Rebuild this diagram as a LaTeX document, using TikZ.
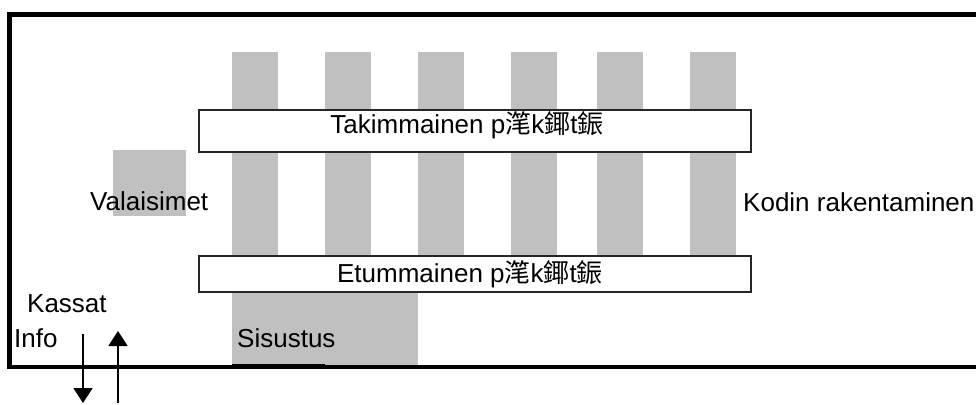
\documentclass[tikz,border=0pt]{standalone}
\usepackage{fontspec}
\setmainfont{Liberation Sans}
\newfontfamily\cjk{Noto Sans CJK SC}
\usetikzlibrary{arrows.meta}
\definecolor{barGray}{HTML}{C0C0C0}
\begin{document}
\begin{tikzpicture}[x=1pt,y=-1pt,
  lbl/.style={inner sep=0pt, font=\fontsize{26}{31}\selectfont},
  walkbox/.style={draw=black!85, line width=2pt, fill=white, inner sep=0pt},
  framestyle/.style={line width=4.5pt, line join=miter},
  arr/.style={line width=1.8pt, -{Triangle[width=19pt,length=15pt]}}]
\useasboundingbox (0,0) rectangle (976,404);
\fill[white] (0,0) rectangle (976,404);
% vertical gray bars (aisles)
\foreach \x in {232,325,418,511,597,690}
  \fill[barGray] (\x,52) rectangle ++(46,206);
% Sisustus block
\fill[barGray] (232,290) rectangle (418,366);
% Valaisimet block
\fill[barGray] (113,150) rectangle (186,216);
% walkway boxes
\node[walkbox, minimum width=552pt, minimum height=42pt] (back) at (474.75,130.75) {};
\node[walkbox, minimum width=552pt, minimum height=36pt] (front) at (474.75,274.25) {};
\node[lbl, anchor=base] (backtxt) at (467,133) {Takimmainen p{\cjk 滗}k{\cjk 鎁}t{\cjk 鋠}};
\node[lbl, anchor=base] (fronttxt) at (470,282) {Etummainen p{\cjk 滗}k{\cjk 鎁}t{\cjk 鋠}};
% frame
\draw[framestyle] (976,14.5) -- (9.5,14.5) -- (9.5,367) -- (976,367);
\draw[line width=1.5pt] (232,364.5) -- (325,364.5);
% labels
\node[lbl, anchor=base west] (valo) at (90,210) {Valaisimet};
\node[lbl, anchor=base west] (kodin) at (743,211) {Kodin rakentaminen};
\node[lbl, anchor=base west] (kassat) at (27,312) {Kassat};
\node[lbl, anchor=base west] (info) at (14,347) {Info};
\node[lbl, anchor=base west] (sisustus) at (237,347) {Sisustus};
% arrows
\coordinate (dnA) at (83,334);
\coordinate (dnB) at (83,403);
\coordinate (upA) at (118,403);
\coordinate (upB) at (118,331);
\draw[arr] (dnA) -- (dnB);
\draw[arr] (upA) -- (upB);
\end{tikzpicture}
\end{document}
